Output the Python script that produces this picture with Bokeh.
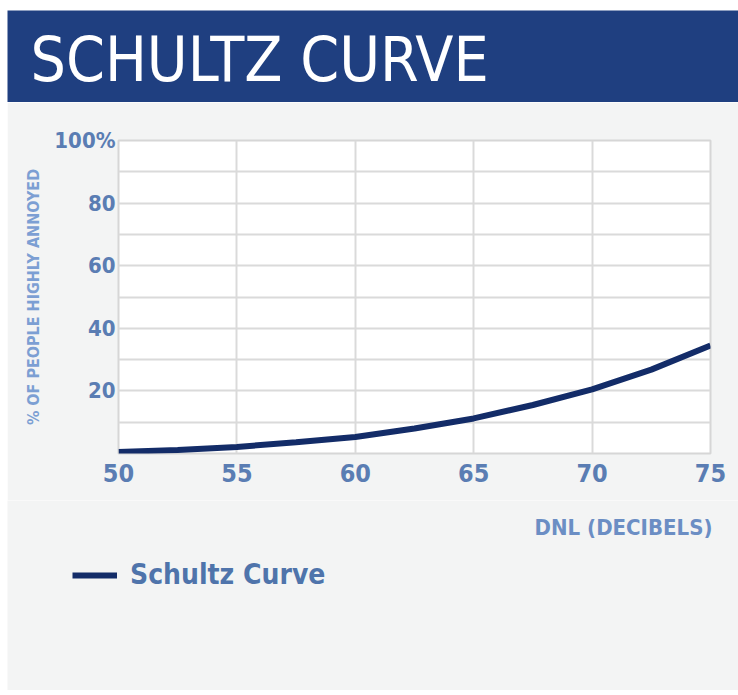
from bokeh.plotting import figure
from bokeh.models import Range1d, FixedTicker, Legend, LegendItem, Label
from bokeh.embed import file_html
from bokeh.resources import INLINE

# ---- data ----
dnl = [50, 52.5, 55, 57.5, 60, 62.5, 65, 67.5, 70, 72.5, 75]
pct_annoyed = [0.5, 1.1, 2.1, 3.6, 5.3, 8.0, 11.2, 15.5, 20.5, 26.8, 34.5]
x_ticks = [50, 55, 60, 65, 70, 75]
y_ticks = [20, 40, 60, 80, 100]
y_grid = [0, 10, 20, 30, 40, 50, 60, 70, 80, 90, 100]
y_tick_labels = {100: "100%"}
title_text = "SCHULTZ CURVE"
x_title = "DNL (DECIBELS)"
y_title = "% OF PEOPLE HIGHLY ANNOYED"
series_name = "Schultz Curve"

NARROW = "'DejaVu Sans Condensed', 'DejaVu Sans', sans-serif"
BANNER = "#1f3f80"
BG = "#f3f4f4"
LINE = "#132c68"

W = 731
BH = 92
SH = 190
OFF = 500  # strip's y range sits well below the data, so the series is out of view

# ---- banner (separate root, frame == whole canvas) ----
banner = figure(width=W, height=BH, x_axis_type=None, y_axis_type=None,
                toolbar_location=None, output_backend="svg", min_border=0,
                background_fill_color=BANNER, border_fill_color=BANNER,
                outline_line_color=None, margin=(10, 0, 0, 7),
                x_range=Range1d(0, W), y_range=Range1d(0, BH))
banner.xgrid.visible = False
banner.ygrid.visible = False
banner.add_layout(Label(x=23, y=43, text=title_text, text_color="white",
                        text_font=NARROW, text_font_size="62px",
                        text_baseline="alphabetic", text_align="left"))

# ---- main chart ----
p = figure(width=W, height=398, toolbar_location=None, output_backend="svg",
           x_range=Range1d(50, 75), y_range=Range1d(0, 100),
           min_border_left=111, min_border_right=28,
           min_border_top=38, min_border_bottom=47,
           background_fill_color="white", border_fill_color=BG,
           outline_line_color="#d6d6d6", outline_line_width=2,
           margin=(0, 0, 0, 7))

r = p.line(dnl, pct_annoyed, line_color=LINE, line_width=6)

p.xaxis.ticker = FixedTicker(ticks=x_ticks)
p.yaxis.ticker = FixedTicker(ticks=y_ticks)
p.ygrid.ticker = FixedTicker(ticks=y_grid)
p.xgrid.ticker = FixedTicker(ticks=x_ticks)
p.yaxis.major_label_overrides = y_tick_labels
for g in (p.xgrid, p.ygrid):
    g.grid_line_color = "#dadada"
    g.grid_line_width = 2

for ax in (p.xaxis, p.yaxis):
    ax.axis_line_color = None
    ax.major_tick_line_color = None
    ax.minor_tick_line_color = None
    ax.major_tick_out = 0
    ax.major_tick_in = 0
    ax.minor_tick_out = 0
    ax.minor_tick_in = 0
    ax.major_label_text_font = NARROW
    ax.major_label_text_font_style = "bold"
    ax.major_label_text_color = "#5a7db3"

p.xaxis.major_label_text_font_size = "25px"
p.xaxis.major_label_standoff = 10
p.yaxis.major_label_text_font_size = "22px"
p.yaxis.major_label_standoff = 3

p.yaxis.axis_label = y_title
p.yaxis.axis_label_text_font = NARROW
p.yaxis.axis_label_text_font_size = "16px"
p.yaxis.axis_label_text_font_style = "bold"
p.yaxis.axis_label_text_color = "#7c9fd3"
p.yaxis.axis_label_standoff = 8

# ---- lower strip: x-axis title + legend (separate root) ----
lg = figure(width=W, height=SH, toolbar_location=None, output_backend="svg",
            x_axis_type=None, y_axis_type=None,
            x_range=Range1d(0, W), y_range=Range1d(-OFF - SH, -OFF),
            min_border=0, background_fill_color=BG,
            border_fill_color=BG, outline_line_color=None,
            margin=(0, 0, 0, 7))
lg.xgrid.visible = False
lg.ygrid.visible = False
lg.add_layout(Label(x=705, y=-OFF - 27, text=x_title, text_font=NARROW,
                    text_font_size="22px", text_font_style="bold",
                    text_color="#6b8ec4", text_align="right",
                    text_baseline="middle"))
# same series, drawn outside this strip's visible range: only its legend shows
lr = lg.line(dnl, pct_annoyed, line_color=LINE, line_width=6)
legend = Legend(items=[LegendItem(label=series_name, renderers=[lr])],
                location=(65, SH - 91), glyph_width=45, glyph_height=26,
                label_height=26, label_standoff=13, padding=0, margin=0,
                spacing=0, border_line_color=None, background_fill_alpha=0,
                label_text_font=NARROW, label_text_font_size="28px",
                label_text_font_style="bold", label_text_color="#4f74ab")
lg.add_layout(legend)

open("out.html", "w").write(file_html([banner, p, lg], INLINE))
